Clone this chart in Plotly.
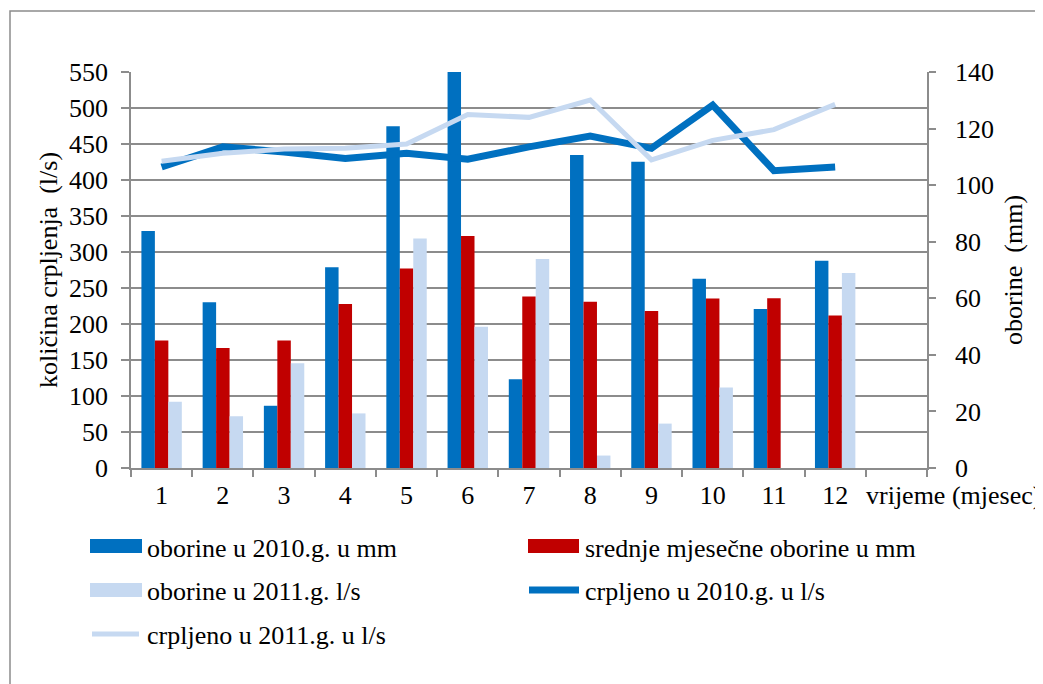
import plotly.graph_objects as go

# ---- data ----
months = ["1", "2", "3", "4", "5", "6", "7", "8", "9", "10", "11", "12"]
oborine_2010_mm = [83.8, 58.6, 22.0, 71.0, 120.8, 150.0, 31.4, 110.7, 108.3, 66.9, 56.2, 73.3]
srednje_mm = [45.1, 42.4, 45.1, 58.0, 70.5, 82.0, 60.6, 58.8, 55.5, 59.9, 60.0, 53.9]
oborine_2011 = [23.4, 18.3, 37.0, 19.3, 81.1, 49.9, 73.9, 4.4, 15.7, 28.5, None, 68.9]
crpljeno_2010 = [418, 446, 439, 430, 437, 429, 446, 461, 444, 504, 413, 418]
crpljeno_2011 = [426, 437, 443, 444, 450, 491, 487, 511, 428, 455, 470, 505]
categories = months + ["\u00a0"]
left_ticks = list(range(0, 551, 50))
right_ticks = list(range(0, 141, 20))

names = ["oborine u 2010.g. u mm", "srednje mjesečne oborine u mm",
         "oborine u 2011.g. l/s", "crpljeno u 2010.g. u l/s", "crpljeno u 2011.g. u l/s"]
C_BLUE = "#0070C0"
C_RED = "#C00000"
C_LIGHT = "#C6D9F1"
GRID = "#8C8C8C"
FONT = "'Liberation Serif', 'Times New Roman', 'DejaVu Serif', serif"
FS = 26

# the page body adds an 8px offset; coordinates below are screen pixels
OFF = 8
FIG_W, FIG_H = 1043 - OFF, 684 - OFF
L, R, T, B = 131, 927, 72, 468
W, H = R - L, B - T


def px_x(px):
    return (px - L) / W


def px_y(py):
    return (B - py) / H


fig = go.Figure()
fig.add_bar(x=months, y=oborine_2010_mm, name=names[0], marker_color=C_BLUE, yaxis="y")
fig.add_bar(x=months, y=srednje_mm, name=names[1], marker_color=C_RED, yaxis="y")
fig.add_bar(x=months, y=oborine_2011, name=names[2], marker_color=C_LIGHT, yaxis="y")
fig.add_scatter(x=months, y=crpljeno_2010, name=names[3], mode="lines",
                line=dict(color=C_BLUE, width=7), yaxis="y2")
fig.add_scatter(x=months, y=crpljeno_2011, name=names[4], mode="lines",
                line=dict(color=C_LIGHT, width=5), yaxis="y2")

fig.update_traces(selector=dict(type="bar"), marker_line_width=0)

shapes = []
annotations = []

# outer chart border
shapes.append(dict(type="rect", xref="paper", yref="paper",
                   x0=px_x(10), x1=px_x(1060), y0=px_y(700), y1=px_y(11),
                   line=dict(color="#8C8C8C", width=1.5), fillcolor="rgba(0,0,0,0)", layer="below"))

# custom legend
legend_items = [
    ("rect", C_BLUE, 90, 142, 546, 548, 145, names[0]),
    ("rect", C_RED, 528, 579, 546, 548, 583, names[1]),
    ("rect", C_LIGHT, 90, 142, 590, 591, 145, names[2]),
    ("line7", C_BLUE, 529, 579, 590, 591, 583, names[3]),
    ("line5", C_LIGHT, 92, 139, 634, 635, 145, names[4]),
]
for kind, col, x0, x1, yc, ty, tx, label in legend_items:
    if kind == "rect":
        shapes.append(dict(type="rect", xref="paper", yref="paper",
                           x0=px_x(x0), x1=px_x(x1), y0=px_y(yc + 7), y1=px_y(yc - 7),
                           line=dict(width=0), fillcolor=col))
    else:
        wdt = 7 if kind == "line7" else 5
        shapes.append(dict(type="line", xref="paper", yref="paper",
                           x0=px_x(x0), x1=px_x(x1), y0=px_y(yc), y1=px_y(yc),
                           line=dict(color=col, width=wdt)))
    annotations.append(dict(xref="paper", yref="paper", x=px_x(tx), y=px_y(ty),
                            xanchor="left", yanchor="middle", showarrow=False,
                            text=label, font=dict(family=FONT, size=FS, color="black")))

# x-axis title label placed after last category
annotations.append(dict(xref="paper", yref="paper", x=px_x(864), y=px_y(495),
                        xanchor="left", yanchor="middle", showarrow=False,
                        text="vrijeme (mjesec)", font=dict(family=FONT, size=FS, color="black")))

fig.update_layout(
    width=FIG_W, height=FIG_H,
    margin=dict(l=L - OFF, r=FIG_W - (R - OFF), t=T - OFF, b=FIG_H - (B - OFF)),
    paper_bgcolor="white", plot_bgcolor="white",
    font=dict(family=FONT, size=FS, color="black"),
    barmode="group", bargap=0.34, bargroupgap=0,
    showlegend=False,
    xaxis=dict(type="category", categoryorder="array", categoryarray=categories,
               range=[-0.5, 12.5], tickmode="array", tickvals=categories, ticktext=categories,
               showline=True, linecolor=GRID, linewidth=1.5,
               ticks="outside", tickson="boundaries", ticklen=7, tickcolor=GRID, tickwidth=1.5,
               showgrid=False, ticklabelstandoff=3),
    yaxis=dict(side="right", range=[0, 140], tickvals=right_ticks,
               showline=True, linecolor=GRID, linewidth=1.5,
               ticks="outside", ticklen=7, tickcolor=GRID, tickwidth=1.5,
               showgrid=False, zeroline=False, ticklabelstandoff=14,
               title=dict(text="oborine\u00a0 (mm)", standoff=11, font=dict(family=FONT, size=FS))),
    yaxis2=dict(side="left", overlaying="y", range=[0, 550], tickvals=left_ticks,
                showline=True, linecolor=GRID, linewidth=1.5,
                ticks="outside", ticklen=8, tickcolor=GRID, tickwidth=1.5,
                showgrid=True, gridcolor=GRID, gridwidth=1.5, zeroline=False,
                ticklabelstandoff=8,
                title=dict(text="količina crpljenja\u00a0 (l/s)", standoff=4, font=dict(family=FONT, size=FS))),
    shapes=shapes,
    annotations=annotations,
)

fig.write_html("out.html")
